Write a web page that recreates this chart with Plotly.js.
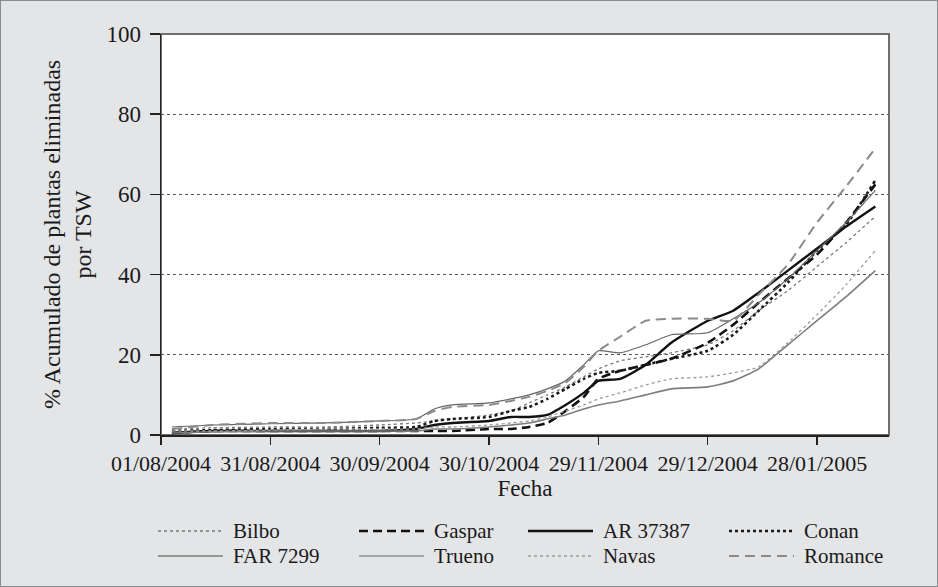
<!DOCTYPE html>
<html>
<head>
<meta charset="utf-8">
<script src="https://cdn.plot.ly/plotly-3.0.1.min.js"></script>
<style>
html,body{margin:0;padding:0;background:#e3e5e7;}
#chart{width:936px;height:585px;border:1px solid #8a8c8e;}
</style>
</head>
<body>
<div id="chart"></div>
<script>
// ---- data ----
const dates = ['2004-08-04','2004-08-15','2004-08-31','2004-09-15','2004-09-30','2004-10-10','2004-10-15','2004-10-20','2004-10-30','2004-11-05','2004-11-10','2004-11-15','2004-11-20','2004-11-25','2004-11-29','2004-12-05','2004-12-12','2004-12-19','2004-12-29','2005-01-05','2005-01-12','2005-01-20','2005-01-28','2005-02-05','2005-02-13'];

const bilbo   = [1.5,1.8,2,2,2.5,3,3.5,4,5,6,8,10,12,14.5,16.5,18.5,19.5,20.5,22.5,26,31,36,42,48,54.5];
const gaspar  = [0.5,1,1,1,1,1,1,1,1.5,1.5,2,3,6,9.5,14,16,17.5,19,23,27.5,33,39,45,53,62.5];
const ar37387 = [0.5,1,1,1,1,1.5,2.5,3,3.5,4.5,4.5,5,7.5,10.5,13.5,14,17.5,23,28.5,31,35.5,41,46.5,52,57];
const conan   = [1,1.2,1.5,1.5,1.8,2,3.5,4,4.5,6,7,9,11.5,14,15.5,16,17.5,19,21,25,31,38,46,52.5,63.5];
const far7299 = [0.5,0.8,1,1,1,1,1.5,1.5,2,2.5,3,4,5,6.5,7.5,8.5,10,11.5,12,13.5,16.5,22.5,28.5,34.5,41];
const trueno  = [2,2.5,2.8,3,3.5,4,6.5,7.5,8,9,10,11.5,13.5,17.5,21,20.5,22.5,25,25.5,29,33,39,46,53,61];
const navas   = [1,1,1.2,1.5,1.5,1.5,2,2,2.5,3,3.5,4.5,6,7.5,9,10.5,12.5,14,14.5,15.5,17,23,30,37.5,46];
const romance = [1.5,2.5,3,3,3.5,4,6,7,7.5,8.5,9.5,11,13,17,21,24.5,28.5,29,29,28.5,35,42.5,53,62,71.5];

const seriesNames = ['Bilbo','Gaspar','AR 37387','Conan','FAR 7299','Trueno','Navas','Romance'];
const seriesValues = [bilbo,gaspar,ar37387,conan,far7299,trueno,navas,romance];

const tickDates = ['2004-08-01','2004-08-31','2004-09-30','2004-10-30','2004-11-29','2004-12-29','2005-01-28'];
const tickLabels = ['01/08/2004','31/08/2004','30/09/2004','30/10/2004','29/11/2004','29/12/2004','28/01/2005'];
const yTicks = [0,20,40,60,80,100];

// ---- styles ----
const styles = [
  {color:'#7a7a7a', width:1.3, dash:'dot'},
  {color:'#111111', width:2.6, dash:'9px,5px'},
  {color:'#111111', width:2.4, dash:'solid'},
  {color:'#1a1a1a', width:2.6, dash:'dot'},
  {color:'#7d7d7d', width:1.6, dash:'solid'},
  {color:'#666666', width:1.2, dash:'solid'},
  {color:'#9a9a9a', width:1.3, dash:'dot'},
  {color:'#8a8a8a', width:2.0, dash:'10px,6px'}
];

const font = "'Liberation Serif', 'Times New Roman', serif";

const traces = seriesNames.map((n,i)=>({
  x: dates, y: seriesValues[i], name: n, type:'scatter', mode:'lines',
  line: Object.assign({shape:'spline', smoothing:0.5}, styles[i]),
  showlegend:false, hoverinfo:'skip'
}));

// custom legend (pixel layout -> paper coords)
const L=160, R=888, T=33, B=434;
const px2x = p => (p-L)/(R-L);
const py2y = p => (B-p)/(B-T);
const colX=[157,358,527,728], rowY=[530,555];
const shapes=[], annotations=[];
seriesNames.forEach((n,i)=>{
  const c=i%4, r=Math.floor(i/4);
  shapes.push({type:'line', xref:'paper', yref:'paper',
    x0:px2x(colX[c]), x1:px2x(colX[c]+65), y0:py2y(rowY[r]), y1:py2y(rowY[r]),
    line:{color:styles[i].color, width:styles[i].width, dash:styles[i].dash}});
  annotations.push({xref:'paper', yref:'paper', x:px2x(colX[c]+73), y:py2y(rowY[r]),
    xanchor:'left', yanchor:'middle', text:n, showarrow:false,
    font:{family:font, size:21, color:'#1a1a1a'}});
});
// plot frame (top/right gray)
shapes.push({type:'rect', xref:'paper', yref:'paper', x0:0, x1:1, y0:0, y1:1,
  line:{color:'#6e6e6e', width:2}, layer:'below'});

const layout = {
  width:936, height:585,
  margin:{l:160, r:48, t:33, b:151},
  paper_bgcolor:'#e3e5e7', plot_bgcolor:'#ffffff',
  font:{family:font, color:'#1a1a1a', size:22},
  showlegend:false,
  xaxis:{
    type:'date', range:['2004-08-01','2005-02-16 18:00'],
    tickvals:tickDates, ticktext:tickLabels, tickangle:0,
    ticks:'outside', ticklen:8, tickcolor:'#222', tickwidth:1.5,
    showline:true, linecolor:'#222', linewidth:1.5,
    showgrid:false, zeroline:false,
    tickfont:{family:font, size:22, color:'#1a1a1a'},
    title:{text:'Fecha', font:{family:font, size:23}, standoff:4}
  },
  yaxis:{
    range:[0,100], tickvals:yTicks,
    ticks:'outside', ticklen:10, tickcolor:'#222', tickwidth:1.5,
    showline:true, linecolor:'#222', linewidth:1.5,
    showgrid:true, gridcolor:'#555', griddash:'dot', gridwidth:1,
    zeroline:false,
    tickfont:{family:font, size:23, color:'#1a1a1a'},
    ticklabelstandoff:4,
    title:{text:'% Acumulado de plantas eliminadas<br>por TSW', font:{family:font, size:24}, standoff:8}
  },
  shapes:shapes, annotations:annotations
};

Plotly.newPlot('chart', traces, layout, {staticPlot:true, displayModeBar:false});
</script>
</body>
</html>
